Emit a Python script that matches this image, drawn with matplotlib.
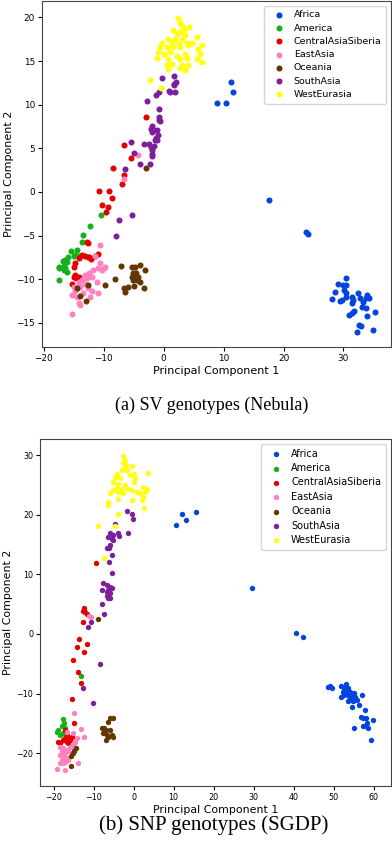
import matplotlib
matplotlib.use("Agg")
import matplotlib.pyplot as plt

groups = ["Africa", "America", "CentralAsiaSiberia", "EastAsia",
          "Oceania", "SouthAsia", "WestEurasia"]
colors = ["xkcd:blue", "xkcd:green", "xkcd:red", "xkcd:pink",
          "xkcd:brown", "xkcd:purple", "xkcd:yellow"]

# ---- (a) SV genotypes (Nebula) ----
sv_africa_x = [11.25, 11.6, 8.9, 10.4, 17.6, 23.75, 24.1, 30.4, 29.1, 30.0, 30.5, 28.6,
               30.1, 30.5, 30.4, 32.5, 28.1, 29.7, 29.4, 31.4, 31.6, 31.5, 32.75, 33.3,
               33.7, 34.0, 34.3, 33.1, 33.7, 31.75, 31.4, 30.9, 34.0, 35.25, 32.6, 32.9,
               32.3, 34.9]
sv_africa_y = [12.6, 11.4, 10.2, 10.2, -0.9, -4.6, -4.8, -9.9, -10.6, -10.7, -10.7, -11.5,
               -11.2, -11.6, -12.0, -11.6, -12.3, -12.4, -12.45, -12.0, -12.4, -12.7, -12.2, -12.6,
               -12.2, -11.8, -12.2, -13.2, -13.25, -13.7, -13.9, -14.1, -14.2, -13.8, -15.2, -15.35,
               -16.0, -15.8]
sv_america_x = [-10.4, -12.25, -13.5, -13.6, -15.4, -14.5, -14.75, -14.2, -16.0, -16.4,
                -16.85, -16.1, -16.7, -17.4, -17.5, -16.4, -16.1, -16.7, -17.4, -15.0]
sv_america_y = [-2.65, -3.9, -4.95, -5.7, -6.8, -6.65, -7.2, -7.3, -7.5, -7.8,
                -7.9, -8.0, -8.45, -8.6, -8.75, -8.7, -9.15, -8.95, -10.1, -7.4]
sv_central_x = [-3.0, -6.6, -5.4, -8.4, -6.6, -6.9, -10.75, -9.1, -8.6, -10.2, -9.2, -9.6,
                -12.7, -12.8, -13.6, -13.1, -12.5, -12.1, -11.4, -14.2, -14.9, -14.75, -14.2,
                -15.3, -14.5, -11.0, -12.7, -14.75, -14.9, -14.6]
sv_central_y = [8.6, 5.4, 3.9, 2.75, 1.9, 0.9, 0.05, 0.1, -0.7, -1.45, -1.7, -2.35,
                -5.8, -5.7, -7.2, -7.3, -7.5, -7.7, -7.4, -7.6, -8.6, -9.5, -9.7,
                -10.5, -11.05, -7.1, -7.5, -8.2, -9.7, -9.9]
sv_eastasia_x = [-4.2, -6.6, -10.6, -11.5, -10.6, -10.0, -10.3, -10.9, -11.7, -12.5, -13.1,
                 -12.0, -12.8, -13.6, -14.2, -13.1, -13.9, -15.0, -15.3, -14.5, -14.2, -13.9,
                 -15.3, -12.0, -10.9, -12.25, -11.1, -12.6, -14.75, -13.4, -9.75]
sv_eastasia_y = [4.2, 1.5, -6.1, -7.3, -8.2, -8.7, -8.95, -8.75, -8.95, -9.3, -9.5,
                 -9.7, -9.9, -10.1, -10.3, -10.5, -10.85, -10.85, -11.8, -12.0, -12.75, -12.95,
                 -14.0, -11.4, -11.6, -12.0, -10.3, -11.05, -11.4, -11.6, -8.6]
sv_oceania_x = [-2.9, -7.1, -8.1, -6.6, -6.4, -5.9, -5.0, -3.9, -3.25, -3.1, -4.0, -5.3,
                -4.75, -5.1, -4.6, -5.3, -4.75, -4.2, -5.1, -4.5, -9.75, -12.7, -13.0,
                -13.9, -14.5]
sv_oceania_y = [2.75, -8.45, -10.0, -11.05, -11.5, -10.9, -10.8, -10.3, -11.05, -8.95, -8.4, -8.65,
                -8.65, -9.25, -9.3, -9.7, -9.9, -9.7, -10.1, -10.1, -10.7, -10.7, -12.55,
                -11.9, -11.05]
sv_southasia_x = [-0.2, 1.8, 2.0, 1.8, 1.7, 0.9, 1.1, 1.9, -1.3, -0.7, -2.8, -0.8, -0.75,
                  -0.75, -0.65, -2.0, -2.1, -1.9, -1.6, -1.1, -1.0, -1.3, -1.1, -1.5, -2.4,
                  -3.2, -2.1, -1.6, -2.0, -1.9, -2.0, -5.5, -5.0, -3.9, -2.25, -6.4, -7.4,
                  -5.2, -7.9]
sv_southasia_y = [13.1, 13.3, 12.6, 12.4, 12.2, 11.6, 11.4, 11.4, 11.1, 11.4, 10.4, 9.45, 8.6,
                  8.3, 8.1, 7.6, 7.2, 6.9, 7.05, 7.05, 6.5, 6.2, 5.9, 6.0, 5.5,
                  5.5, 5.1, 5.25, 4.8, 4.3, 4.1, 5.7, 4.5, 3.2, 3.2, 2.6, -3.2,
                  -2.6, -5.1]
sv_westeur_x = [2.37, 2.75, 1.5, 3.0, 3.4, 4.3, 2.2, 2.75, 3.5, 0.8, 1.9, 3.0, 5.5, -0.3,
                1.4, 2.5, 3.9, 4.7, 6.4, -0.6, 0.5, 1.6, 2.75, 4.1, 5.8, -0.9, 0.0, 1.1,
                2.2, 3.6, 6.1, -1.1, 0.8, 2.75, 3.9, 5.5, 6.4, 0.5, 1.4, 3.0, 4.1, 0.8,
                2.75, 3.6, -2.25, -0.5]
sv_westeur_y = [19.9, 19.4, 18.6, 19.05, 18.7, 18.9, 18.1, 18.3, 18.0, 17.5, 17.5, 17.5, 17.7,
                17.1, 17.1, 17.0, 17.1, 17.1, 16.8, 16.6, 16.6, 16.6, 16.6, 16.8, 16.4, 16.0,
                15.8, 16.0, 15.6, 15.8, 15.8, 15.3, 15.25, 15.25, 15.4, 15.25, 14.9, 14.5,
                14.7, 14.5, 14.5, 14.1, 14.2, 14.0, 12.85, 11.9]

# ---- (b) SNP genotypes (SGDP) ----
snp_africa_x = [10.55, 12.05, 13.05, 15.6, 29.5, 40.5, 42.45, 48.7, 49.1, 49.7, 51.8, 53.05,
                52.6, 53.7, 53.3, 52.3, 51.9, 52.7, 53.7, 54.1, 55.2, 54.55, 55.4, 57.05,
                53.95, 54.95, 55.8, 56.4, 54.7, 53.7, 57.9, 57.45, 58.1, 59.95, 57.3, 58.05,
                58.7, 55.1, 59.3, 58.3, 56.9]
snp_africa_y = [18.2, 20.05, 19.05, 20.5, 7.75, 0.2, -0.55, -8.95, -8.8, -9.1, -8.8, -8.4,
                -9.1, -9.1, -9.65, -9.65, -10.5, -10.2, -10.2, -9.65, -9.95, -10.5, -10.5, -10.2,
                -11.05, -11.3, -11.05, -11.9, -12.2, -11.3, -12.8, -14.1, -14.1, -14.4, -15.5, -15.5,
                -15.8, -15.75, -17.75, -14.95, -13.85]
snp_america_x = [-13.2, -17.55, -17.3, -17.95, -17.1, -18.8, -19.2, -18.4, -17.55]
snp_america_y = [-7.0, -14.3, -14.95, -15.5, -15.8, -16.1, -16.4, -16.9, -16.6]
snp_central_x = [-9.4, -12.4, -12.55, -12.1, -12.55, -11.55, -13.6, -14.05, -11.55, -12.3,
                 -15.05, -13.8, -13.2, -15.45, -14.9, -17.1, -16.7, -16.3, -17.1, -17.55,
                 -15.9, -16.7, -18.4, -16.3, -15.45, -18.8]
snp_central_y = [11.85, 4.3, 3.9, 3.7, 1.95, 3.3, -0.85, -2.2, -1.7, -2.95,
                 -4.35, -6.3, -8.25, -10.95, -15.0, -16.1, -16.9, -17.2, -17.5, -17.75,
                 -17.75, -18.05, -18.3, -18.3, -17.2, -18.2]
snp_eastasia_x = [-11.05, -10.7, -14.8, -13.1, -12.3, -16.7, -15.05, -14.2, -14.6, -15.05,
                  -18.4, -17.55, -16.7, -17.95, -17.1, -16.3, -18.4, -17.55, -16.7, -17.95,
                  -17.1, -16.3, -18.4, -15.45, -15.9, -17.55, -19.2, -17.1, -13.95, -15.05]
snp_eastasia_y = [3.0, 2.9, -13.2, -15.9, -17.3, -16.4, -16.6, -17.5, -18.05, -18.6,
                  -18.9, -19.15, -19.4, -19.7, -20.0, -19.7, -20.3, -20.55, -20.8, -21.1,
                  -21.4, -21.1, -21.65, -20.0, -18.9, -21.65, -22.65, -22.8, -21.65, -19.0]
snp_oceania_x = [-8.95, -15.6, -15.2, -14.9, -14.4, -15.7, -5.9, -5.2, -6.3, -5.9, -6.9,
                 -7.95, -7.55, -6.7, -5.45, -5.05, -6.9, -6.3, -7.4]
snp_oceania_y = [2.45, -20.4, -20.0, -19.55, -19.15, -22.2, -14.1, -14.1, -14.7, -16.1, -16.1,
                 -15.8, -16.6, -16.9, -16.9, -17.2, -17.75, -17.3, -15.8]
snp_southasia_x = [-1.7, -0.45, -0.05, -1.3, -4.6, -5.9, -5.05, -6.3, -5.45, -3.8, -3.6,
                   -5.2, -5.9, -6.7, -6.05, -5.45, -6.1, -5.45, -7.55, -6.7, -5.9, -7.8,
                   -6.3, -5.45, -5.9, -6.7, -6.55, -5.9, -6.3, -7.95, -7.4, -10.6, -11.3,
                   -8.4, -12.7, -10.2]
snp_southasia_y = [20.65, 20.2, 19.25, 17.0, 18.4, 16.9, 16.6, 16.3, 16.0, 16.9, 16.4,
                   15.75, 14.9, 14.45, 14.35, 13.2, 12.0, 10.2, 8.5, 8.2, 7.9, 7.4,
                   7.4, 7.65, 6.8, 7.1, 6.4, 6.0, 6.0, 5.0, 3.35, 2.05, 1.1,
                   -5.1, -9.1, -11.6]
snp_westeur_x = [-2.55, -2.1, -2.7, -1.9, -2.4, -1.7, -2.95, -0.45, 0.0, -0.9, 0.4, 0.0,
                 3.7, -4.2, -4.6, -3.4, -5.05, -3.8, -2.1, -4.2, -2.95, -1.3, -5.05, -3.8,
                 -5.9, -2.55, -0.45, 0.8, 1.6, 2.45, 3.3, 2.9, 2.45, 2.05, 2.6, -0.45,
                 -3.8, -6.45, -6.3, -3.8, -8.8, -4.6, -7.4]
snp_westeur_y = [29.8, 29.1, 28.6, 28.3, 27.75, 27.5, 27.5, 28.1, 26.9, 26.6, 26.1, 25.5,
                 27.0, 26.9, 26.35, 26.1, 25.5, 25.2, 25.0, 24.7, 24.4, 24.4, 24.1, 23.8,
                 23.6, 23.6, 24.1, 23.8, 23.6, 24.7, 24.4, 23.8, 23.0, 22.4, 21.2, 22.55,
                 22.7, 22.2, 21.6, 20.05, 18.15, 18.1, 12.8]

sv_data = [(sv_africa_x, sv_africa_y), (sv_america_x, sv_america_y),
           (sv_central_x, sv_central_y), (sv_eastasia_x, sv_eastasia_y),
           (sv_oceania_x, sv_oceania_y), (sv_southasia_x, sv_southasia_y),
           (sv_westeur_x, sv_westeur_y)]
snp_data = [(snp_africa_x, snp_africa_y), (snp_america_x, snp_america_y),
            (snp_central_x, snp_central_y), (snp_eastasia_x, snp_eastasia_y),
            (snp_oceania_x, snp_oceania_y), (snp_southasia_x, snp_southasia_y),
            (snp_westeur_x, snp_westeur_y)]

fig = plt.figure(figsize=(3.92, 8.5), dpi=100)
ax_a = fig.add_axes([0.107, 0.592, 0.890, 0.407])
ax_b = fig.add_axes([0.102, 0.0753, 0.895, 0.4082])


def draw(ax, data, size, tick_fs, label_fs, leg_fs, xlim, ylim):
    for (xs, ys), name, c in zip(data, groups, colors):
        ax.scatter(xs, ys, s=size, color=c, label=name, linewidths=0)
    ax.set_xlim(*xlim)
    ax.set_ylim(*ylim)
    ax.set_xlabel("Principal Component 1", fontsize=label_fs, labelpad=2)
    ax.set_ylabel("Principal Component 2", fontsize=label_fs, labelpad=2)
    ax.tick_params(labelsize=tick_fs, length=3, pad=2)
    for sp in ax.spines.values():
        sp.set_color("#444444")
    ax.legend(loc="upper right", fontsize=leg_fs, scatterpoints=1,
              handletextpad=0.6, labelspacing=0.45, borderpad=0.5)


draw(ax_a, sv_data, 19, 6.4, 8.0, 6.8, (-20.3, 37.9), (-17.75, 21.9))
draw(ax_b, snp_data, 15, 5.8, 7.9, 7.0, (-23.4, 64.3), (-25.5, 32.7))

fig.text(0.54, 0.5235, "(a) SV genotypes (Nebula)", ha="center", va="center",
         fontsize=13, family="Liberation Serif")
fig.text(0.546, 0.0294, "(b) SNP genotypes (SGDP)", ha="center", va="center",
         fontsize=15, family="Liberation Serif")

fig.savefig("out.png", dpi=100, facecolor="white")
